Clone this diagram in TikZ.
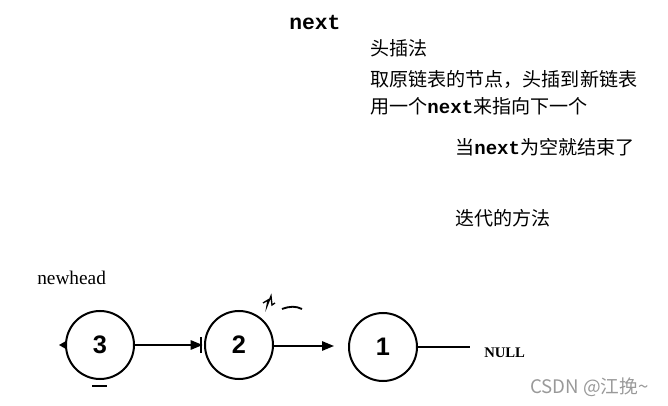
\documentclass[tikz,border=0pt]{standalone}
\usepackage{fontspec}
\setmainfont{Liberation Serif}
\newfontfamily\cjk{Noto Sans CJK SC}
\newfontfamily\mono{Liberation Mono}
\newfontfamily\sans{Liberation Sans}
\usetikzlibrary{arrows.meta}
\begin{document}
\begin{tikzpicture}[x=0.75pt,y=-0.75pt,
  txt/.style={inner sep=0pt,anchor=base west},
  cn/.style={txt,font=\cjk\fontsize{14.3}{16}\selectfont},
  listnode/.style={circle,draw,line width=1.5pt,minimum size=51pt,inner sep=0pt,font=\sans\bfseries\fontsize{19}{20}\selectfont},
  link/.style={line width=1.4pt,-{Triangle[length=9pt,width=7pt]}},
  stray/.style={line width=1.4pt}]
\useasboundingbox (0,0) rectangle (668,406);
% title and notes
\node[txt,font=\mono\bfseries\fontsize{16}{18}\selectfont] (tnext) at (289,30) {next};
\node[cn] (l1) at (370,56) {头插法};
\node[cn] (l2) at (370,87) {取原链表的节点，头插到新链表};
\node[cn] (l3) at (370,114) {用一个{\mono\bfseries next}来指向下一个};
\node[cn] (l4) at (455,155) {当{\mono\bfseries next}为空就结束了};
\node[cn] (l5) at (455,226) {迭代的方法};
\node[txt,font=\fontsize{14.5}{16}\selectfont] (nh) at (37,284) {newhead};
% list
\node[listnode] (n3) at (100,345) {3};
\node[listnode] (n2) at (239,345) {2};
\node[listnode] (n1) at (383,347) {1};
\node[txt,font=\bfseries\fontsize{11}{12}\selectfont] (null) at (484,357) {NULL};
\coordinate (nullend) at (470,347);
\coordinate (a21) at (334,346);
\coordinate (leftmark) at (59,345);
\draw[link] (n3) -- ([xshift=-1pt]n2.west);
\draw[stray] ([xshift=-2pt,yshift=-6pt]n2.west) -- ([xshift=-2pt,yshift=6pt]n2.west);
\draw[link] (n2.east |- a21) -- (a21);
\draw[line width=1.4pt] (n1) -- (nullend);
\fill (leftmark) -- ++(7,-4) -- ++(0,8) -- cycle;
% stray marks
\draw[stray] (92,386) -- (107,386);
\draw[stray] (282,309) .. controls (290,306) and (296,306) .. (302,309);
\draw[line width=1pt] (263,303) -- (268,300) -- (267,306) -- (271,296) -- (272,305) -- (275,303);
% watermark
\node[txt,font=\cjk\fontsize{14}{16}\selectfont,text=black!40] (wm) at (530,393) {CSDN @江挽\textasciitilde};
\end{tikzpicture}
\end{document}
